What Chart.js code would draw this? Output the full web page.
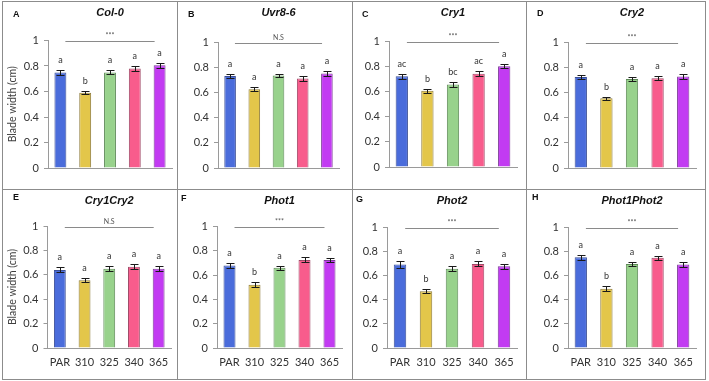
<!DOCTYPE html>
<html>
<head>
<meta charset="utf-8">
<script src="https://cdn.jsdelivr.net/npm/chart.js@4.4.0/dist/chart.umd.min.js"></script>
<style>
  body { margin: 0; background: #fff; }
  #fig { position: relative; width: 709px; height: 381px; overflow: hidden; }
  .panel { position: absolute; }
  .ln { position: absolute; background: #8c8c8c; }
</style>
</head>
<body>
<div id="fig"></div>
<script>
// data
const categories = ["PAR", "310", "325", "340", "365"];
const genotypes = ["Col-0", "Uvr8-6", "Cry1", "Cry2", "Cry1Cry2", "Phot1", "Phot2", "Phot1Phot2"];
const panelTags = ["A", "B", "C", "D", "E", "F", "G", "H"];
const sigMarks = ["***", "N.S", "***", "***", "N.S", "***", "***", "***"];

const widthCol0 = [0.75, 0.59, 0.75, 0.78, 0.805];
const errCol0 = [0.018, 0.012, 0.015, 0.017, 0.017];
const lettersCol0 = ["a", "b", "a", "a", "a"];

const widthUvr8 = [0.73, 0.625, 0.735, 0.71, 0.75];
const errUvr8 = [0.015, 0.015, 0.013, 0.018, 0.018];
const lettersUvr8 = ["a", "a", "a", "a", "a"];

const widthCry1 = [0.72, 0.605, 0.655, 0.74, 0.80];
const errCry1 = [0.018, 0.014, 0.02, 0.02, 0.018];
const lettersCry1 = ["ac", "b", "bc", "ac", "a"];

const widthCry2 = [0.725, 0.555, 0.71, 0.715, 0.73];
const errCry2 = [0.018, 0.013, 0.016, 0.016, 0.022];
const lettersCry2 = ["a", "b", "a", "a", "a"];

const widthCry1Cry2 = [0.64, 0.555, 0.65, 0.665, 0.65];
const errCry1Cry2 = [0.02, 0.017, 0.02, 0.02, 0.02];
const lettersCry1Cry2 = ["a", "a", "a", "a", "a"];

const widthPhot1 = [0.68, 0.52, 0.66, 0.725, 0.725];
const errPhot1 = [0.022, 0.02, 0.018, 0.02, 0.018];
const lettersPhot1 = ["a", "b", "a", "a", "a"];

const widthPhot2 = [0.69, 0.47, 0.655, 0.695, 0.675];
const errPhot2 = [0.025, 0.016, 0.02, 0.02, 0.02];
const lettersPhot2 = ["a", "b", "a", "a", "a"];

const widthPhot1Phot2 = [0.75, 0.49, 0.695, 0.745, 0.69];
const errPhot1Phot2 = [0.02, 0.02, 0.018, 0.018, 0.018];
const lettersPhot1Phot2 = ["a", "b", "a", "a", "a"];

const allWidths = [widthCol0, widthUvr8, widthCry1, widthCry2, widthCry1Cry2, widthPhot1, widthPhot2, widthPhot1Phot2];
const allErrs = [errCol0, errUvr8, errCry1, errCry2, errCry1Cry2, errPhot1, errPhot2, errPhot1Phot2];
const allLetters = [lettersCol0, lettersUvr8, lettersCry1, lettersCry2, lettersCry1Cry2, lettersPhot1, lettersPhot2, lettersPhot1Phot2];

const barFill = ["#4a6cdb", "#e3c64a", "#98d28c", "#f85c8c", "#c23bf2"];
const barEdge = ["#3b4f96", "#8d7a3a", "#5f8a58", "#a04a68", "#7c3a98"];

// panel boxes and plot areas (page pixels)
const layout = [
  { x: 3, y: 2, w: 174, h: 187, L: 48, R: 172, T: 40.5, B: 168, tag: [10, 13] },
  { x: 178, y: 2, w: 174, h: 187, L: 218, R: 339, T: 42, B: 168, tag: [10, 13] },
  { x: 353, y: 2, w: 173, h: 187, L: 389, R: 517, T: 41, B: 167, tag: [9, 13] },
  { x: 527, y: 2, w: 178, h: 187, L: 568, R: 696, T: 42.5, B: 168, tag: [10, 12] },
  { x: 3, y: 190, w: 174, h: 188, L: 47.5, R: 171, T: 226, B: 348, tag: [10, 8] },
  { x: 178, y: 190, w: 174, h: 188, L: 217, R: 342, T: 226.5, B: 348, tag: [3, 9] },
  { x: 353, y: 190, w: 173, h: 188, L: 387, R: 517, T: 227, B: 348, tag: [3, 10] },
  { x: 527, y: 190, w: 178, h: 188, L: 568, R: 696, T: 227, B: 348, tag: [5, 8] }
];

const fig = document.getElementById("fig");

// frame lines
[[2, 1, 1, 379], [177, 1, 1, 379], [352, 1, 1, 379], [526, 1, 1, 379], [705, 1, 1, 379],
 [2, 1, 704, 1], [2, 189, 704, 1], [2, 379, 704, 1]].forEach(([x, y, w, h]) => {
  const d = document.createElement("div");
  d.className = "ln";
  d.style.cssText = `left:${x}px;top:${y}px;width:${w}px;height:${h}px`;
  fig.appendChild(d);
});

Chart.defaults.font.family = "Lato, 'Liberation Sans', sans-serif";
Chart.defaults.color = "#333";

const annot = {
  id: "annot",
  afterDatasetsDraw(chart) {
    const p = chart.options.plugins.annot;
    const { ctx, chartArea } = chart;
    const x = chart.scales.x, y = chart.scales.y;
    const bars = chart.getDatasetMeta(0).data;
    ctx.save();
    ctx.strokeStyle = "#1a1a1a";
    ctx.lineWidth = 1;
    ctx.fillStyle = "#333";
    ctx.font = "9px Lato, sans-serif";
    ctx.textAlign = "center";
    ctx.textBaseline = "middle";
    bars.forEach((bar, i) => {
      const v = p.means[i], e = p.errs[i];
      const yt = Math.round(y.getPixelForValue(v + e)) + 0.5;
      const yb = Math.round(y.getPixelForValue(v - e)) + 0.5;
      const bx = Math.round(bar.x) + 0.5;
      ctx.beginPath();
      ctx.moveTo(bx, yt); ctx.lineTo(bx, yb);
      ctx.moveTo(bx - 4, yt); ctx.lineTo(bx + 4, yt);
      ctx.moveTo(bx - 4, yb); ctx.lineTo(bx + 4, yb);
      ctx.stroke();
      ctx.fillText(p.letters[i], bar.x, yt - 10);
    });
    // significance line
    const step = x.getPixelForValue(1) - x.getPixelForValue(0);
    const x1 = x.getPixelForValue(0) + 0.2 * step;
    const x2 = x.getPixelForValue(4) - 0.2 * step;
    const ly = Math.round(y.getPixelForValue(0.995)) + 0.5;
    ctx.strokeStyle = "#8a8a8a";
    ctx.beginPath(); ctx.moveTo(x1, ly); ctx.lineTo(x2, ly); ctx.stroke();
    ctx.fillStyle = "#555";
    ctx.font = "7px Lato, sans-serif";
    ctx.fillText(p.sig, (x1 + x2) / 2, ly - 6);
    // title and tag
    ctx.fillStyle = "#111";
    ctx.font = "italic bold 11px 'Liberation Sans', sans-serif";
    ctx.fillText(p.title, (chartArea.left + chartArea.right) / 2, 11);
    ctx.font = "bold 9px 'Liberation Sans', sans-serif";
    ctx.textAlign = "left";
    ctx.fillText(p.tag, p.tagPos[0], p.tagPos[1]);
    ctx.restore();
  }
};

genotypes.forEach((g, k) => {
  const box = layout[k];
  const bottomRow = k >= 4;
  const withTitle = k === 0 || k === 4;
  const xH = bottomRow ? 22 : 0;

  const wrap = document.createElement("div");
  wrap.className = "panel";
  wrap.style.cssText = `left:${box.x}px;top:${box.y}px;width:${box.w}px;height:${box.h}px`;
  const cv = document.createElement("canvas");
  wrap.appendChild(cv);
  fig.appendChild(wrap);

  new Chart(cv, {
    type: "bar",
    data: {
      labels: categories,
      datasets: [{
        data: allWidths[k],
        backgroundColor: barFill,
        borderColor: barEdge,
        borderWidth: 1,
        barPercentage: 0.48,
        categoryPercentage: 1
      }]
    },
    options: {
      responsive: true,
      maintainAspectRatio: false,
      animation: false,
      layout: {
        padding: {
          left: 0,
          right: box.x + box.w - box.R,
          top: box.T - box.y,
          bottom: box.y + box.h - box.B - xH
        }
      },
      plugins: {
        legend: { display: false },
        tooltip: { enabled: false },
        annot: {
          means: allWidths[k],
          errs: allErrs[k],
          letters: allLetters[k],
          sig: sigMarks[k],
          title: g,
          tag: panelTags[k],
          tagPos: box.tag
        }
      },
      scales: {
        x: {
          afterFit: s => { s.height = xH; },
          grid: { display: true, drawOnChartArea: false, drawTicks: false, color: "#9a9a9a" },
          border: { color: "#9a9a9a" },
          ticks: {
            display: bottomRow, padding: 8, color: "#333", font: { size: 11 },
            maxRotation: 0, minRotation: 0, autoSkip: false
          }
        },
        y: {
          min: 0,
          max: 1,
          afterFit: s => { s.width = box.L - box.x; },
          grid: { display: true, drawOnChartArea: false, drawTicks: true, tickLength: 4, color: "#9a9a9a" },
          border: { color: "#9a9a9a" },
          ticks: {
            stepSize: 0.2, padding: 5, color: "#333", font: { size: 11 },
            callback: v => String(Math.round(v * 10) / 10)
          },
          title: {
            display: withTitle,
            text: "Blade width (cm)",
            color: "#404040",
            font: { size: 10.5 },
            padding: { top: 3, bottom: 0 }
          }
        }
      }
    },
    plugins: [annot]
  });
});
</script>
</body>
</html>
